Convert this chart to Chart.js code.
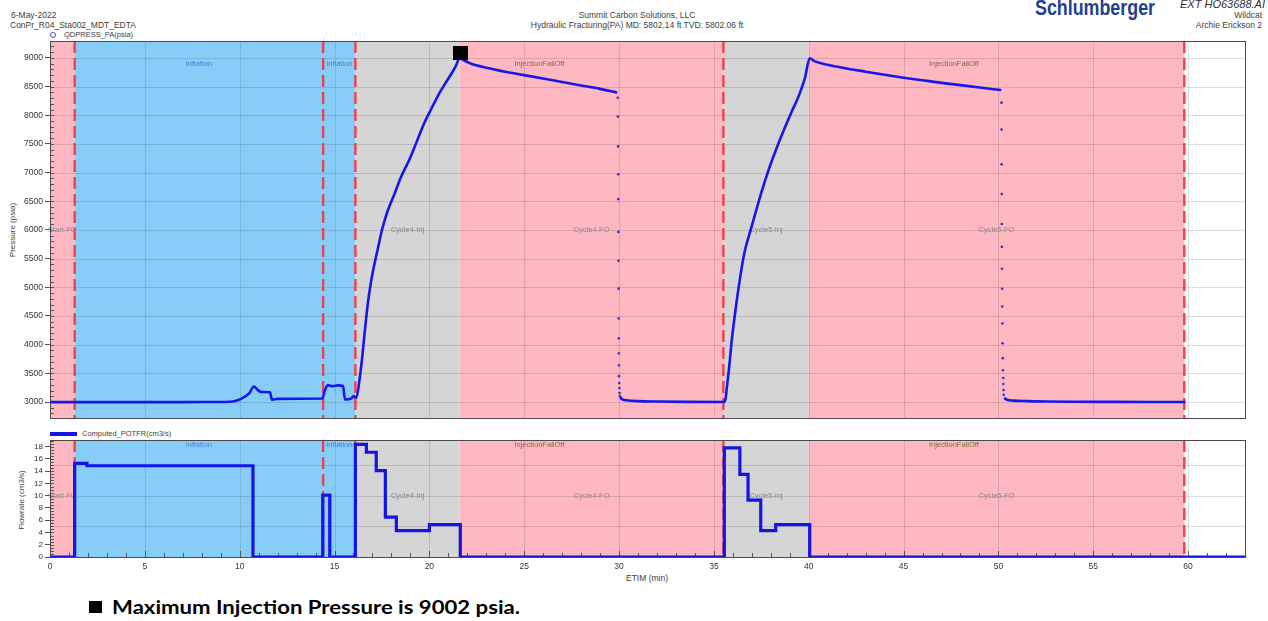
<!DOCTYPE html>
<html>
<head>
<meta charset="utf-8">
<title>Summit Carbon Solutions - Archie Erickson 2</title>
<script src="https://cdn.jsdelivr.net/npm/chart.js@4.4.1/dist/chart.umd.min.js"></script>
<style>
  html, body { margin: 0; padding: 0; background: #fff; }
  body { position: relative; width: 1268px; height: 621px; overflow: hidden;
         font-family: "Liberation Sans", Arial, sans-serif; }
  .t { position: absolute; white-space: nowrap; color: #404040; font-size: 8.5px; line-height: 1; }
  canvas { position: absolute; left: 0; }
</style>
</head>
<body>

<div class="t" style="left:11px;top:11px;">6-May-2022</div>
<div class="t" style="left:10px;top:21px;">ConPr_R04_Sta002_MDT_EDTA</div>

<div class="t" style="left:537px;top:11px;width:200px;text-align:center;">Summit Carbon Solutions, LLC</div>
<div class="t" style="left:487px;top:21px;width:300px;text-align:center;">Hydraulic Fracturing(PA) MD: 5802.14 ft TVD: 5802.06 ft</div>

<div id="logo" class="t" style="left:1035px;top:-3px;font-family:'Liberation Sans',Arial,sans-serif;font-weight:bold;font-size:22px;color:#1f3f8f;transform-origin:0 0;">Schlumberger</div>
<div class="t" style="left:1168px;top:-1px;width:97px;text-align:right;font-style:italic;font-size:11px;color:#303030;">EXT HO63688.AI</div>
<div class="t" style="left:1160px;top:11px;width:102px;text-align:right;">Wildcat</div>
<div class="t" style="left:1160px;top:21px;width:102px;text-align:right;">Archie Erickson 2</div>

<!-- series keys -->
<div style="position:absolute;left:50px;top:32px;width:4px;height:4px;border:1px solid #4a4ad8;border-radius:50%;"></div>
<div class="t" style="left:64px;top:31px;font-size:7.5px;">QDPRESS_PA(psia)</div>
<div style="position:absolute;left:50px;top:432px;width:27px;height:4px;background:#1414e6;"></div>
<div class="t" style="left:82px;top:430px;font-size:7.5px;">Computed_POTFR(cm3/s)</div>

<!-- axis titles -->
<div class="t" style="left:-37px;top:226px;width:100px;text-align:center;transform:rotate(-90deg);font-size:8px;">Pressure (psia)</div>
<div class="t" style="left:-28px;top:496px;width:100px;text-align:center;transform:rotate(-90deg);font-size:8px;">Flowrate (cm3/s)</div>
<div class="t" style="left:626px;top:574px;font-size:8.5px;">ETIM (min)</div>

<canvas id="pressure" width="1268" height="425" style="top:0;"></canvas>
<canvas id="rate" width="1268" height="165" style="top:428px;"></canvas>

<div style="position:absolute;left:89px;top:601px;width:13px;height:12px;background:#000;"></div>
<div id="note" class="t" style="left:112px;top:598px;font-family:Lato,'Liberation Sans',sans-serif;font-size:18px;font-weight:bold;color:#000;transform-origin:0 0;"></div>

<script>
// ---- Bottom-hole pressure, QDPRESS_PA (psia) vs elapsed time (min); null breaks the trace ----
const pressTime = [
  0, 2, 4, 6, 8, 9.2, 9.7, 10.1, 10.5, 10.75, 10.95, 11.15, 11.6, 11.7, 12.0, 13, 14.35,
  14.5, 14.65, 14.9, 15.2, 15.45, 15.55, 15.9, 16.0, 16.15,
  16.3, 16.45, 16.6, 16.75, 16.9, 17.05, 17.3, 17.5, 17.8, 18.15, 18.5, 18.95, 19.3, 19.7,
  20.1, 20.5, 20.85, 21.15, 21.4, 21.6,
  21.8, 22.2, 23, 24, 25, 26, 27, 28, 29, 29.9,
  29.95,
  30.06, 30.15, 30.4, 31, 32, 33.5, 35.5,
  35.6, 35.7, 35.8, 35.95, 36.15, 36.35, 36.6, 36.85, 37.1, 37.5, 37.9, 38.3, 38.7, 39.1,
  39.5, 39.8, 40.05,
  40.3, 41, 42, 43, 44, 45, 46, 47, 48, 49, 50, 50.15,
  50.2,
  50.3, 50.45, 50.8, 51.5, 52.5, 54, 56, 59.85
];
const pressValue = [
  2998, 2998, 2998, 2998, 2999, 3000, 3012, 3060, 3150, 3270, 3210, 3175, 3170, 3040, 3055, 3058, 3060,
  3210, 3295, 3275, 3290, 3280, 3045, 3065, 3105, 3075,
  3350, 3750, 4250, 4700, 5050, 5320, 5700, 6000, 6330, 6620, 6920, 7230, 7510, 7840,
  8110, 8370, 8560, 8720, 8860, 9002,
  8960, 8900, 8830, 8760, 8700, 8640, 8580, 8520, 8460, 8395,
  null,
  3090, 3050, 3030, 3015, 3008, 3003, 3000,
  3035, 3300, 3590, 4100, 4630, 5100, 5590, 5900, 6190, 6650, 7060, 7420, 7750, 8060,
  8360, 8650, 8995,
  8945, 8880, 8815, 8760, 8705, 8655, 8610, 8565, 8525, 8485, 8445, 8440,
  null,
  3070, 3040, 3025, 3015, 3008, 3004, 3002, 3000
];

// Sparse gauge samples logged while the pressure dropped at the end of each fall-off
const dropTime = [
  29.93, 29.94, 29.95, 29.955, 29.96, 29.965, 29.97, 29.975, 29.98, 29.985, 29.99, 29.995, 30.0, 30.01, 30.02, 30.03, 30.04,
  50.16, 50.165, 50.17, 50.175, 50.18, 50.185, 50.19, 50.195, 50.2, 50.21, 50.22, 50.23, 50.24, 50.25, 50.26, 50.27, 50.28
];
const dropValue = [
  8306, 7977, 7457, 6971, 6538, 5966, 5463, 4977, 4457, 4110, 3850, 3642, 3451, 3330, 3243, 3157, 3105,
  8220, 7750, 7145, 6625, 6105, 5705, 5325, 4975, 4665, 4370, 4025, 3765, 3555, 3420, 3315, 3210, 3125
];

// ---- Computed pump rate, POTFR (cm3/s); each value holds from its time until the next ----
const rateTime  = [0, 1.3, 1.95, 10.7, 14.38, 14.75, 16.1, 16.68, 17.2, 17.68, 18.26, 20.0, 21.63,
                   35.55, 36.37, 36.8, 37.47, 38.26, 40.05, 63];
const rateValue = [0, 15.3, 14.9, 0, 10.1, 0, 18.4, 17.1, 14.1, 6.5, 4.3, 5.3, 0,
                   17.8, 13.5, 9.3, 4.3, 5.3, 0, 0];

// ---- Test stages (between the red markers) and colour bands ----
const stageMarks  = [1.3, 14.4, 16.1, 35.5, 59.8];
const stageStart  = [1.3, 14.4, 16.1, 35.5];
const stageEnd    = [14.4, 16.1, 35.5, 59.8];
const stageName   = ['Inflation', 'Inflation', 'InjectionFallOff', 'InjectionFallOff'];
const bandStart   = [0, 1.3, 16.1, 21.6, 35.5, 40.0];
const bandEnd     = [1.3, 16.1, 21.6, 35.5, 40.0, 59.8];
const bandKind    = ['fo', 'inflate', 'inj', 'fo', 'inj', 'fo'];
const bandName    = ['Start-FO', '', 'Cycle4-Inj', 'Cycle4-FO', 'Cycle5-Inj', 'Cycle5-FO'];

// ---- Axis ticks ----
const timeTicks     = [0, 5, 10, 15, 20, 25, 30, 35, 40, 45, 50, 55, 60];
const pressureTicks = [3000, 3500, 4000, 4500, 5000, 5500, 6000, 6500, 7000, 7500, 8000, 8500, 9000];
const rateTicks     = [0, 2, 4, 6, 8, 10, 12, 14, 16, 18];
const rateGrid      = [5, 10, 15];

// ---- Peak injection pressure ----
const peakTime = 21.6;
const peakPressure = 9002;

const bandColor = { fo: '#ffb7c2', inflate: '#87cdf8', inj: '#d5d5d5' };
const stageColor = { Inflation: '#4d80d4', InjectionFallOff: '#77753a' };
const FONT = "'Liberation Sans', Arial, sans-serif";

function pairs(xs, ys) { return xs.map((x, i) => ({ x: x, y: ys[i] })); }

// Stretch a text block horizontally to a set width
function fitWidth(el, width) {
  const w = el.getBoundingClientRect().width;
  if (w > 0) el.style.transform = 'scaleX(' + (width / w).toFixed(4) + ')';
}

// Draws the coloured test bands, grid, stage markers, band names and the frame under the traces
function backdrop(opt) {
  return {
    id: 'backdrop',
    beforeDatasetsDraw(chart) {
      const { ctx, chartArea: a, scales: { x, y } } = chart;
      ctx.save();
      bandStart.forEach((s, i) => {
        const x0 = x.getPixelForValue(s), x1 = x.getPixelForValue(bandEnd[i]);
        ctx.fillStyle = bandColor[bandKind[i]];
        ctx.fillRect(x0, a.top, x1 - x0, a.bottom - a.top);
      });
      ctx.lineWidth = 1;
      ctx.strokeStyle = 'rgba(60,60,60,0.17)';
      ctx.beginPath();
      timeTicks.forEach(v => {
        if (v <= 0) return;
        const px = Math.round(x.getPixelForValue(v)) + 0.5;
        ctx.moveTo(px, a.top); ctx.lineTo(px, a.bottom);
      });
      opt.grid.forEach(v => {
        const py = Math.round(y.getPixelForValue(v)) + 0.5;
        ctx.moveTo(a.left, py); ctx.lineTo(a.right, py);
      });
      ctx.stroke();

      // minor ticks along the inside of the axes
      ctx.strokeStyle = '#555';
      ctx.beginPath();
      for (let v = opt.minorFrom; v <= y.max; v += opt.minorStep) {
        const py = Math.round(y.getPixelForValue(v)) + 0.5;
        if (py < a.top || py > a.bottom) continue;
        ctx.moveTo(a.left, py); ctx.lineTo(a.left + 4, py);
      }
      if (opt.timeMinor) {
        for (let v = 1; v < x.max; v += 1) {
          const px = Math.round(x.getPixelForValue(v)) + 0.5;
          ctx.moveTo(px, a.bottom); ctx.lineTo(px, a.bottom - (v % 5 === 0 ? 6 : 4));
        }
      }
      ctx.stroke();

      // stage markers
      ctx.strokeStyle = '#f0404e';
      ctx.lineWidth = 2.4;
      ctx.setLineDash([12, 5]);
      ctx.beginPath();
      stageMarks.forEach(v => {
        const px = x.getPixelForValue(v);
        ctx.moveTo(px, a.top); ctx.lineTo(px, a.bottom);
      });
      ctx.stroke();
      ctx.setLineDash([]);

      // stage and band names
      ctx.font = '7.5px ' + FONT;
      ctx.textAlign = 'center';
      ctx.textBaseline = 'middle';
      stageStart.forEach((s, i) => {
        const cx = (x.getPixelForValue(s) + x.getPixelForValue(stageEnd[i])) / 2;
        ctx.fillStyle = stageColor[stageName[i]];
        ctx.fillText(stageName[i], cx, a.top + opt.stageDy);
      });
      const my = y.getPixelForValue(opt.bandValue);
      bandStart.forEach((s, i) => {
        if (!bandName[i]) return;
        const cx = (x.getPixelForValue(s) + x.getPixelForValue(bandEnd[i])) / 2;
        ctx.fillStyle = i === 0 ? '#7f8ca0' : '#8a8a8a';
        ctx.fillText(bandName[i], cx, my);
      });

      // frame
      ctx.strokeStyle = '#4a4a4a';
      ctx.lineWidth = 1;
      ctx.strokeRect(Math.round(a.left) + 0.5, Math.round(a.top) + 0.5,
                     Math.round(a.right - a.left), Math.round(a.bottom - a.top));
      ctx.restore();
    }
  };
}

// Black square flag over the highest injection pressure
const peakFlag = {
  id: 'peakFlag',
  afterDatasetsDraw(chart) {
    const { ctx, scales: { x, y } } = chart;
    const px = x.getPixelForValue(peakTime), py = y.getPixelForValue(peakPressure);
    ctx.save();
    ctx.fillStyle = '#000';
    ctx.fillRect(Math.round(px - 7), Math.round(py - 12), 15, 14);
    ctx.restore();
  }
};

const tickFont = { family: FONT, size: 8.5 };

new Chart(document.getElementById('pressure'), {
  type: 'line',
  data: {
    datasets: [
      {
        data: pairs(pressTime, pressValue),
        borderColor: '#1616ee',
        borderWidth: 2.6,
        pointRadius: 0,
        cubicInterpolationMode: 'monotone',
        spanGaps: false
      },
      {
        data: pairs(dropTime, dropValue),
        showLine: false,
        pointRadius: 1.3,
        pointBorderWidth: 0,
        pointBackgroundColor: '#3030e0'
      }
    ]
  },
  options: {
    responsive: false,
    animation: false,
    devicePixelRatio: 1,
    layout: { padding: { top: 41, right: 23, bottom: 5, left: 0 } },
    plugins: { legend: { display: false }, tooltip: { enabled: false } },
    scales: {
      x: {
        type: 'linear', min: 0, max: 63,
        afterBuildTicks: s => { s.ticks = timeTicks.map(v => ({ value: v })); },
        ticks: { display: false },
        grid: { display: false },
        border: { display: false },
        afterFit: s => { s.height = 0; }
      },
      y: {
        type: 'linear', min: 2723, max: 9295,
        afterBuildTicks: s => { s.ticks = pressureTicks.map(v => ({ value: v })); },
        ticks: { font: tickFont, color: '#333', padding: 2, autoSkip: false, callback: v => String(v) },
        grid: { drawOnChartArea: false, tickLength: 5, color: '#555' },
        border: { display: false },
        afterFit: s => { s.width = 50; }
      }
    }
  },
  plugins: [backdrop({ grid: pressureTicks, minorFrom: 2800, minorStep: 100, timeMinor: false,
                       stageDy: 23, bandValue: 6000 }), peakFlag]
});

new Chart(document.getElementById('rate'), {
  type: 'line',
  data: {
    datasets: [{
      data: pairs(rateTime, rateValue),
      stepped: true,
      borderColor: '#1414e6',
      borderWidth: 3.2,
      pointRadius: 0
    }]
  },
  options: {
    responsive: false,
    animation: false,
    devicePixelRatio: 1,
    layout: { padding: { top: 12, right: 23, bottom: 0, left: 0 } },
    plugins: { legend: { display: false }, tooltip: { enabled: false } },
    scales: {
      x: {
        type: 'linear', min: 0, max: 63,
        afterBuildTicks: s => { s.ticks = timeTicks.map(v => ({ value: v })); },
        ticks: { font: tickFont, color: '#333', padding: 5, maxRotation: 0, autoSkip: false, callback: v => String(v) },
        grid: { drawOnChartArea: false, drawTicks: false },
        border: { display: false },
        afterFit: s => { s.height = 36; }
      },
      y: {
        type: 'linear', min: 0, max: 19.1,
        afterBuildTicks: s => { s.ticks = rateTicks.map(v => ({ value: v })); },
        ticks: { font: { family: FONT, size: 8 }, color: '#333', padding: 2, autoSkip: false, callback: v => String(v) },
        grid: { drawOnChartArea: false, tickLength: 5, color: '#555' },
        border: { display: false },
        afterFit: s => { s.width = 50; }
      }
    }
  },
  plugins: [backdrop({ grid: rateGrid, minorFrom: 0.5, minorStep: 0.5, timeMinor: true,
                       stageDy: 5, bandValue: 10 })]
});

const note = document.getElementById('note');
note.textContent = 'Maximum Injection Pressure is ' + peakPressure + ' psia.';
fitWidth(note, 408);
fitWidth(document.getElementById('logo'), 120);
</script>
</body>
</html>
